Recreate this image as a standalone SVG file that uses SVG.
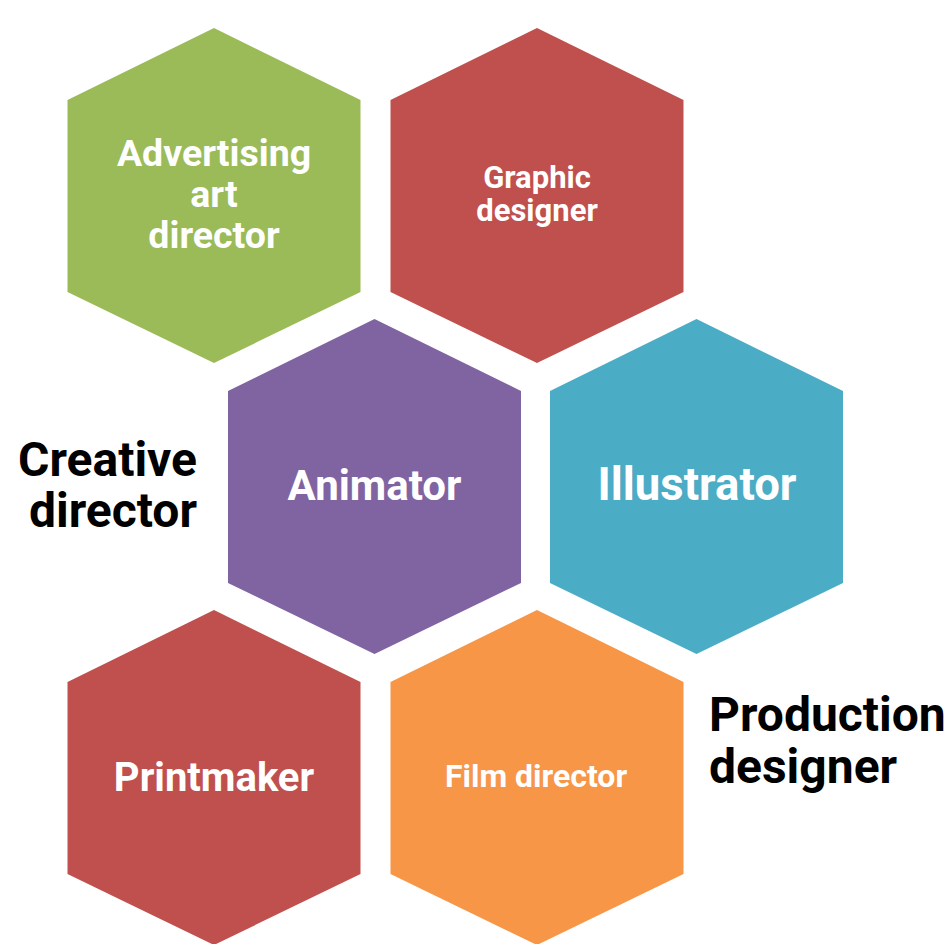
<svg xmlns="http://www.w3.org/2000/svg" width="948" height="944" viewBox="0 0 948 944">
<style>
.lbl{font-family:Roboto,"Liberation Sans",sans-serif;font-weight:700;fill:#ffffff;text-anchor:middle}
.side{font-family:Roboto,"Liberation Sans",sans-serif;font-weight:700;fill:#000000;font-size:48px}
</style>
<defs>
<polygon id="hex" points="0,0 146.5,72 146.5,264 0,335 -146.5,264 -146.5,72"/>
</defs>
<rect width="948" height="944" fill="#ffffff"/>
<g id="connectors"></g>
<g id="node-advertising">
<use href="#hex" x="214" y="28" fill="#9BBB59"/>
<text class="lbl" font-size="37.5" x="214"><tspan x="214" y="166">Advertising</tspan><tspan x="214" y="207">art</tspan><tspan x="214" y="248">director</tspan></text>
</g>
<g id="node-graphic">
<use href="#hex" x="537" y="28" fill="#C0504D"/>
<text class="lbl" font-size="31" x="537"><tspan x="537" y="188">Graphic</tspan><tspan x="537" y="221">designer</tspan></text>
</g>
<g id="node-animator">
<use href="#hex" x="374.5" y="319" fill="#8064A2"/>
<text class="lbl" font-size="42" x="374.5" y="500">Animator</text>
</g>
<g id="node-illustrator">
<use href="#hex" x="696.5" y="319" fill="#4BACC6"/>
<text class="lbl" font-size="45.5" x="697" y="500">Illustrator</text>
</g>
<g id="node-printmaker">
<use href="#hex" x="214" y="610" fill="#C0504D"/>
<text class="lbl" font-size="40" x="214" y="791">Printmaker</text>
</g>
<g id="node-film">
<use href="#hex" x="537" y="610" fill="#F79646"/>
<text class="lbl" font-size="32" x="536" y="787">Film director</text>
</g>
<g id="label-creative">
<text class="side" text-anchor="end"><tspan x="197" y="476">Creative</tspan><tspan x="197" y="527">director</tspan></text>
</g>
<g id="label-production">
<text class="side"><tspan x="709" y="731">Production</tspan><tspan x="709" y="783">designer</tspan></text>
</g>
</svg>
